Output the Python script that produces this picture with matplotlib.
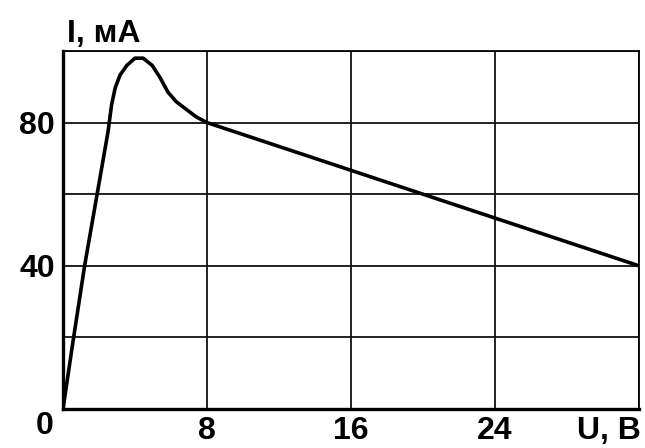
import matplotlib
matplotlib.use("Agg")
import matplotlib.pyplot as plt

# I-V curve (U in volts, I in mA)
u_vals = [0.0, 0.5, 1.2, 2.0, 2.5, 2.7, 2.9, 3.17, 3.55, 4.0, 4.45, 4.95, 5.4, 5.83, 6.3, 6.9, 7.4, 8.0, 32.0]
i_vals = [0.0, 17.0, 40.0, 63.0, 77.4, 85.0, 89.7, 93.3, 96.0, 98.0, 98.0, 96.0, 92.5, 88.5, 85.8, 83.5, 81.6, 80.0, 40.0]

x_grid = [8, 16, 24, 32]
y_grid = [20, 40, 60, 80, 100]
x_ticks = [8, 16, 24]
y_ticks = [40, 80]

W, H = 645, 448
fig = plt.figure(figsize=(W / 100, H / 100), dpi=100)
ax = fig.add_axes([63 / W, (H - 409) / H, (639 - 63) / W, (409 - 51) / H])
ax.set_xlim(0, 32)
ax.set_ylim(0, 100)

font = dict(family="Liberation Sans", weight="bold", size=23)

for x in x_grid:
    ax.axvline(x, color="#111111", lw=1.3, zorder=1)
for y in y_grid:
    ax.axhline(y, color="#111111", lw=1.3, zorder=1)

ax.plot(u_vals, i_vals, color="black", lw=2.6, solid_joinstyle="round",
        solid_capstyle="round", zorder=3)

for side, lw in (("left", 2.4), ("bottom", 2.4), ("top", 1.3), ("right", 1.3)):
    ax.spines[side].set_linewidth(lw)
    ax.spines[side].set_color("black")

ax.set_xticks(x_ticks)
ax.set_xticklabels([str(v) for v in x_ticks], **font)
ax.set_yticks(y_ticks)
ax.set_yticklabels([str(v) for v in y_ticks], **font)
ax.tick_params(length=0)
ax.tick_params(axis="x", pad=5)
ax.tick_params(axis="y", pad=6)

ax.text(-0.5, -0.6, "0", ha="right", va="top", **font)
ax.text(0.2, 100.6, "I, мА", ha="left", va="bottom", **font)
ax.text(32.1, -1.9, "U, B", ha="right", va="top", **font)

fig.savefig("out.png", dpi=100)
